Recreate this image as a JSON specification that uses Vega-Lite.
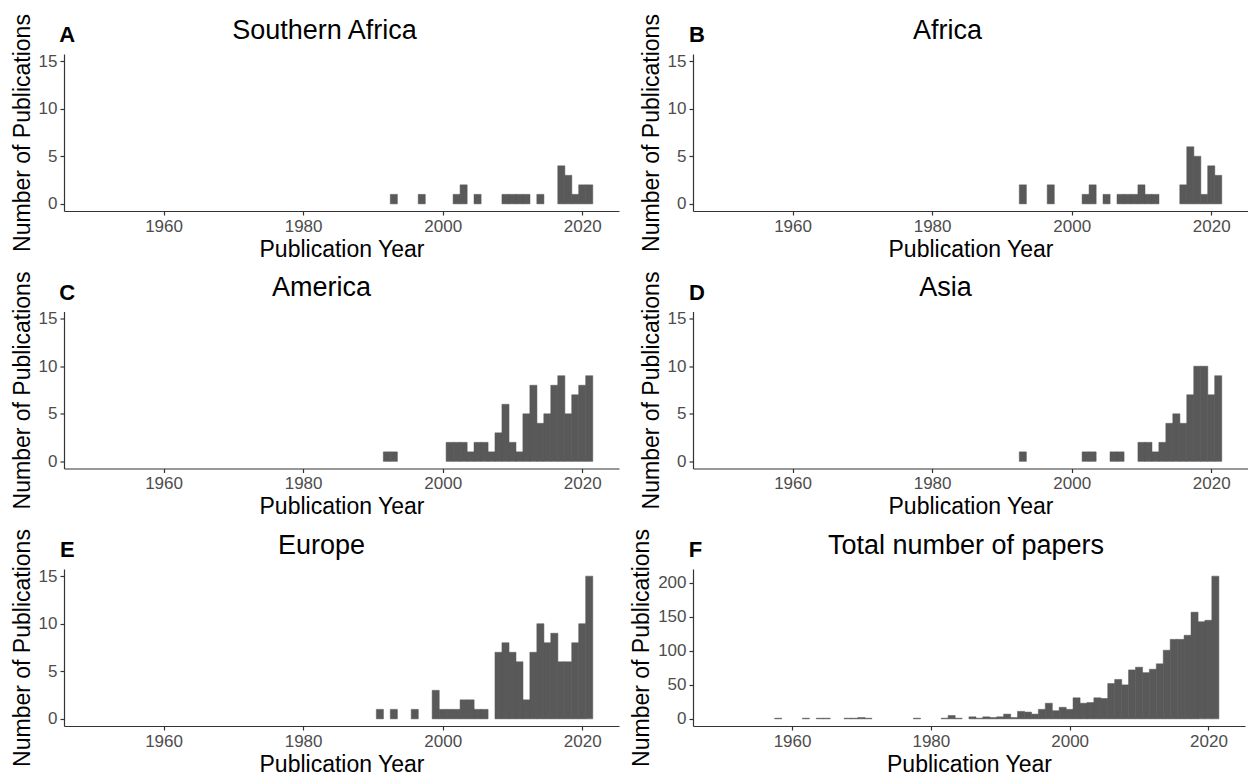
{
  "$schema": "https://vega.github.io/schema/vega-lite/v6.json",
  "background": "white",
  "padding": {"left": 11, "top": 13, "right": 0, "bottom": 0},
  "bounds": "flush",
  "datasets": {
    "pubs": [
      {"region": "Southern Africa", "year": 1993, "n": 1},
      {"region": "Southern Africa", "year": 1997, "n": 1},
      {"region": "Southern Africa", "year": 2002, "n": 1},
      {"region": "Southern Africa", "year": 2003, "n": 2},
      {"region": "Southern Africa", "year": 2005, "n": 1},
      {"region": "Southern Africa", "year": 2009, "n": 1},
      {"region": "Southern Africa", "year": 2010, "n": 1},
      {"region": "Southern Africa", "year": 2011, "n": 1},
      {"region": "Southern Africa", "year": 2012, "n": 1},
      {"region": "Southern Africa", "year": 2014, "n": 1},
      {"region": "Southern Africa", "year": 2017, "n": 4},
      {"region": "Southern Africa", "year": 2018, "n": 3},
      {"region": "Southern Africa", "year": 2019, "n": 1},
      {"region": "Southern Africa", "year": 2020, "n": 2},
      {"region": "Southern Africa", "year": 2021, "n": 2},
      {"region": "Africa", "year": 1993, "n": 2},
      {"region": "Africa", "year": 1997, "n": 2},
      {"region": "Africa", "year": 2002, "n": 1},
      {"region": "Africa", "year": 2003, "n": 2},
      {"region": "Africa", "year": 2005, "n": 1},
      {"region": "Africa", "year": 2007, "n": 1},
      {"region": "Africa", "year": 2008, "n": 1},
      {"region": "Africa", "year": 2009, "n": 1},
      {"region": "Africa", "year": 2010, "n": 2},
      {"region": "Africa", "year": 2011, "n": 1},
      {"region": "Africa", "year": 2012, "n": 1},
      {"region": "Africa", "year": 2016, "n": 2},
      {"region": "Africa", "year": 2017, "n": 6},
      {"region": "Africa", "year": 2018, "n": 5},
      {"region": "Africa", "year": 2019, "n": 1},
      {"region": "Africa", "year": 2020, "n": 4},
      {"region": "Africa", "year": 2021, "n": 3},
      {"region": "America", "year": 1992, "n": 1},
      {"region": "America", "year": 1993, "n": 1},
      {"region": "America", "year": 2001, "n": 2},
      {"region": "America", "year": 2002, "n": 2},
      {"region": "America", "year": 2003, "n": 2},
      {"region": "America", "year": 2004, "n": 1},
      {"region": "America", "year": 2005, "n": 2},
      {"region": "America", "year": 2006, "n": 2},
      {"region": "America", "year": 2007, "n": 1},
      {"region": "America", "year": 2008, "n": 3},
      {"region": "America", "year": 2009, "n": 6},
      {"region": "America", "year": 2010, "n": 2},
      {"region": "America", "year": 2011, "n": 1},
      {"region": "America", "year": 2012, "n": 5},
      {"region": "America", "year": 2013, "n": 8},
      {"region": "America", "year": 2014, "n": 4},
      {"region": "America", "year": 2015, "n": 5},
      {"region": "America", "year": 2016, "n": 8},
      {"region": "America", "year": 2017, "n": 9},
      {"region": "America", "year": 2018, "n": 5},
      {"region": "America", "year": 2019, "n": 7},
      {"region": "America", "year": 2020, "n": 8},
      {"region": "America", "year": 2021, "n": 9},
      {"region": "Asia", "year": 1993, "n": 1},
      {"region": "Asia", "year": 2002, "n": 1},
      {"region": "Asia", "year": 2003, "n": 1},
      {"region": "Asia", "year": 2006, "n": 1},
      {"region": "Asia", "year": 2007, "n": 1},
      {"region": "Asia", "year": 2010, "n": 2},
      {"region": "Asia", "year": 2011, "n": 2},
      {"region": "Asia", "year": 2012, "n": 1},
      {"region": "Asia", "year": 2013, "n": 2},
      {"region": "Asia", "year": 2014, "n": 4},
      {"region": "Asia", "year": 2015, "n": 5},
      {"region": "Asia", "year": 2016, "n": 4},
      {"region": "Asia", "year": 2017, "n": 7},
      {"region": "Asia", "year": 2018, "n": 10},
      {"region": "Asia", "year": 2019, "n": 10},
      {"region": "Asia", "year": 2020, "n": 7},
      {"region": "Asia", "year": 2021, "n": 9},
      {"region": "Europe", "year": 1991, "n": 1},
      {"region": "Europe", "year": 1993, "n": 1},
      {"region": "Europe", "year": 1996, "n": 1},
      {"region": "Europe", "year": 1999, "n": 3},
      {"region": "Europe", "year": 2000, "n": 1},
      {"region": "Europe", "year": 2001, "n": 1},
      {"region": "Europe", "year": 2002, "n": 1},
      {"region": "Europe", "year": 2003, "n": 2},
      {"region": "Europe", "year": 2004, "n": 2},
      {"region": "Europe", "year": 2005, "n": 1},
      {"region": "Europe", "year": 2006, "n": 1},
      {"region": "Europe", "year": 2008, "n": 7},
      {"region": "Europe", "year": 2009, "n": 8},
      {"region": "Europe", "year": 2010, "n": 7},
      {"region": "Europe", "year": 2011, "n": 6},
      {"region": "Europe", "year": 2012, "n": 2},
      {"region": "Europe", "year": 2013, "n": 7},
      {"region": "Europe", "year": 2014, "n": 10},
      {"region": "Europe", "year": 2015, "n": 8},
      {"region": "Europe", "year": 2016, "n": 9},
      {"region": "Europe", "year": 2017, "n": 6},
      {"region": "Europe", "year": 2018, "n": 6},
      {"region": "Europe", "year": 2019, "n": 8},
      {"region": "Europe", "year": 2020, "n": 10},
      {"region": "Europe", "year": 2021, "n": 15},
      {"region": "Total", "year": 1958, "n": 1},
      {"region": "Total", "year": 1962, "n": 1},
      {"region": "Total", "year": 1964, "n": 1},
      {"region": "Total", "year": 1965, "n": 1},
      {"region": "Total", "year": 1968, "n": 1},
      {"region": "Total", "year": 1969, "n": 1},
      {"region": "Total", "year": 1970, "n": 2},
      {"region": "Total", "year": 1971, "n": 1},
      {"region": "Total", "year": 1978, "n": 1},
      {"region": "Total", "year": 1982, "n": 1},
      {"region": "Total", "year": 1983, "n": 5},
      {"region": "Total", "year": 1984, "n": 1},
      {"region": "Total", "year": 1986, "n": 3},
      {"region": "Total", "year": 1987, "n": 1},
      {"region": "Total", "year": 1988, "n": 3},
      {"region": "Total", "year": 1989, "n": 2},
      {"region": "Total", "year": 1990, "n": 3},
      {"region": "Total", "year": 1991, "n": 7},
      {"region": "Total", "year": 1992, "n": 2},
      {"region": "Total", "year": 1993, "n": 11},
      {"region": "Total", "year": 1994, "n": 10},
      {"region": "Total", "year": 1995, "n": 7},
      {"region": "Total", "year": 1996, "n": 14},
      {"region": "Total", "year": 1997, "n": 23},
      {"region": "Total", "year": 1998, "n": 12},
      {"region": "Total", "year": 1999, "n": 17},
      {"region": "Total", "year": 2000, "n": 14},
      {"region": "Total", "year": 2001, "n": 31},
      {"region": "Total", "year": 2002, "n": 23},
      {"region": "Total", "year": 2003, "n": 24},
      {"region": "Total", "year": 2004, "n": 31},
      {"region": "Total", "year": 2005, "n": 30},
      {"region": "Total", "year": 2006, "n": 52},
      {"region": "Total", "year": 2007, "n": 58},
      {"region": "Total", "year": 2008, "n": 50},
      {"region": "Total", "year": 2009, "n": 72},
      {"region": "Total", "year": 2010, "n": 76},
      {"region": "Total", "year": 2011, "n": 68},
      {"region": "Total", "year": 2012, "n": 73},
      {"region": "Total", "year": 2013, "n": 81},
      {"region": "Total", "year": 2014, "n": 101},
      {"region": "Total", "year": 2015, "n": 117},
      {"region": "Total", "year": 2016, "n": 117},
      {"region": "Total", "year": 2017, "n": 123},
      {"region": "Total", "year": 2018, "n": 157},
      {"region": "Total", "year": 2019, "n": 143},
      {"region": "Total", "year": 2020, "n": 145},
      {"region": "Total", "year": 2021, "n": 210}
    ]
  },
  "columns": 2,
  "spacing": {"row": 100.5, "column": 74},
  "concat": [
    {
      "width": 555, "height": 157,
      "title": {"text": "Southern Africa", "dx": -17, "dy": 39},
      "layer": [
        {
          "data": {"name": "pubs"},
          "transform": [{"filter": "datum.region === 'Southern Africa'"}],
          "mark": {"type": "bar", "color": "#595959", "stroke": "#595959", "strokeWidth": 0.5, "width": 7.11},
          "encoding": {
            "x": {"field": "year", "type": "quantitative", "scale": {"domain": [1946.45, 2024.55]}, "axis": {"title": "Publication Year", "values": [1960, 1980, 2000, 2020], "format": "d"}},
            "y": {"field": "n", "type": "quantitative", "scale": {"domain": [-0.75, 15.75]}, "axis": {"title": "Number of Publications", "values": [0, 5, 10, 15], "tickCount": 10}},
            "y2": {"datum": 0}
          }
        },
        {
          "data": {"values": [{"label": "A"}]},
          "mark": {"type": "text", "fontSize": 22, "fontWeight": "bold", "align": "center", "baseline": "middle", "color": "#000000"},
          "encoding": {"x": {"datum": 1946.2, "scale": {"domain": [1946.45, 2024.55]}}, "y": {"datum": 17.7, "scale": {"domain": [-0.75, 15.75]}}, "text": {"field": "label"}}
        }
      ]
    },
    {
      "width": 555, "height": 157,
      "title": {"text": "Africa", "dx": -23, "dy": 39},
      "layer": [
        {
          "data": {"name": "pubs"},
          "transform": [{"filter": "datum.region === 'Africa'"}],
          "mark": {"type": "bar", "color": "#595959", "stroke": "#595959", "strokeWidth": 0.5, "width": 7.11},
          "encoding": {
            "x": {"field": "year", "type": "quantitative", "scale": {"domain": [1946.45, 2024.55]}, "axis": {"title": "Publication Year", "values": [1960, 1980, 2000, 2020], "format": "d"}},
            "y": {"field": "n", "type": "quantitative", "scale": {"domain": [-0.75, 15.75]}, "axis": {"title": "Number of Publications", "values": [0, 5, 10, 15], "tickCount": 10}},
            "y2": {"datum": 0}
          }
        },
        {
          "data": {"values": [{"label": "B"}]},
          "mark": {"type": "text", "fontSize": 22, "fontWeight": "bold", "align": "center", "baseline": "middle", "color": "#000000"},
          "encoding": {"x": {"datum": 1946.3, "scale": {"domain": [1946.45, 2024.55]}}, "y": {"datum": 17.7, "scale": {"domain": [-0.75, 15.75]}}, "text": {"field": "label"}}
        }
      ]
    },
    {
      "width": 555, "height": 157,
      "title": {"text": "America", "dx": -20, "dy": 39},
      "layer": [
        {
          "data": {"name": "pubs"},
          "transform": [{"filter": "datum.region === 'America'"}],
          "mark": {"type": "bar", "color": "#595959", "stroke": "#595959", "strokeWidth": 0.5, "width": 7.11},
          "encoding": {
            "x": {"field": "year", "type": "quantitative", "scale": {"domain": [1946.45, 2024.55]}, "axis": {"title": "Publication Year", "values": [1960, 1980, 2000, 2020], "format": "d"}},
            "y": {"field": "n", "type": "quantitative", "scale": {"domain": [-0.75, 15.75]}, "axis": {"title": "Number of Publications", "values": [0, 5, 10, 15], "tickCount": 10}},
            "y2": {"datum": 0}
          }
        },
        {
          "data": {"values": [{"label": "C"}]},
          "mark": {"type": "text", "fontSize": 22, "fontWeight": "bold", "align": "center", "baseline": "middle", "color": "#000000"},
          "encoding": {"x": {"datum": 1946.2, "scale": {"domain": [1946.45, 2024.55]}}, "y": {"datum": 17.7, "scale": {"domain": [-0.75, 15.75]}}, "text": {"field": "label"}}
        }
      ]
    },
    {
      "width": 555, "height": 157,
      "title": {"text": "Asia", "dx": -25, "dy": 39},
      "layer": [
        {
          "data": {"name": "pubs"},
          "transform": [{"filter": "datum.region === 'Asia'"}],
          "mark": {"type": "bar", "color": "#595959", "stroke": "#595959", "strokeWidth": 0.5, "width": 7.11},
          "encoding": {
            "x": {"field": "year", "type": "quantitative", "scale": {"domain": [1946.45, 2024.55]}, "axis": {"title": "Publication Year", "values": [1960, 1980, 2000, 2020], "format": "d"}},
            "y": {"field": "n", "type": "quantitative", "scale": {"domain": [-0.75, 15.75]}, "axis": {"title": "Number of Publications", "values": [0, 5, 10, 15], "tickCount": 10}},
            "y2": {"datum": 0}
          }
        },
        {
          "data": {"values": [{"label": "D"}]},
          "mark": {"type": "text", "fontSize": 22, "fontWeight": "bold", "align": "center", "baseline": "middle", "color": "#000000"},
          "encoding": {"x": {"datum": 1946.3, "scale": {"domain": [1946.45, 2024.55]}}, "y": {"datum": 17.7, "scale": {"domain": [-0.75, 15.75]}}, "text": {"field": "label"}}
        }
      ]
    },
    {
      "width": 555, "height": 157,
      "title": {"text": "Europe", "dx": -20, "dy": 39},
      "layer": [
        {
          "data": {"name": "pubs"},
          "transform": [{"filter": "datum.region === 'Europe'"}],
          "mark": {"type": "bar", "color": "#595959", "stroke": "#595959", "strokeWidth": 0.5, "width": 7.11},
          "encoding": {
            "x": {"field": "year", "type": "quantitative", "scale": {"domain": [1946.45, 2024.55]}, "axis": {"title": "Publication Year", "values": [1960, 1980, 2000, 2020], "format": "d"}},
            "y": {"field": "n", "type": "quantitative", "scale": {"domain": [-0.75, 15.75]}, "axis": {"title": "Number of Publications", "values": [0, 5, 10, 15], "tickCount": 10}},
            "y2": {"datum": 0}
          }
        },
        {
          "data": {"values": [{"label": "E"}]},
          "mark": {"type": "text", "fontSize": 22, "fontWeight": "bold", "align": "center", "baseline": "middle", "color": "#000000"},
          "encoding": {"x": {"datum": 1946.2, "scale": {"domain": [1946.45, 2024.55]}}, "y": {"datum": 17.7, "scale": {"domain": [-0.75, 15.75]}}, "text": {"field": "label"}}
        }
      ]
    },
    {
      "width": 552, "height": 157,
      "title": {"text": "Total number of papers", "dx": -3, "dy": 39},
      "layer": [
        {
          "data": {"name": "pubs"},
          "transform": [{"filter": "datum.region === 'Total'"}],
          "mark": {"type": "bar", "color": "#595959", "stroke": "#595959", "strokeWidth": 0.5, "width": 7.07},
          "encoding": {
            "x": {"field": "year", "type": "quantitative", "scale": {"domain": [1946.45, 2024.55]}, "axis": {"title": "Publication Year", "values": [1960, 1980, 2000, 2020], "format": "d"}},
            "y": {"field": "n", "type": "quantitative", "scale": {"domain": [-10.5, 220.5]}, "axis": {"title": "Number of Publications", "values": [0, 50, 100, 150, 200], "tickCount": 10}},
            "y2": {"datum": 0}
          }
        },
        {
          "data": {"values": [{"label": "F"}]},
          "mark": {"type": "text", "fontSize": 22, "fontWeight": "bold", "align": "center", "baseline": "middle", "color": "#000000"},
          "encoding": {"x": {"datum": 1946.1, "scale": {"domain": [1946.45, 2024.55]}}, "y": {"datum": 248, "scale": {"domain": [-10.5, 220.5]}}, "text": {"field": "label"}}
        }
      ]
    }
  ],
  "config": {
    "font": "Liberation Sans",
    "view": {"stroke": null},
    "axis": {
      "grid": false,
      "domainColor": "#333333",
      "domainWidth": 1.2,
      "tickColor": "#333333",
      "tickWidth": 1.2,
      "tickSize": 4,
      "labelColor": "#4d4d4d",
      "labelFontSize": 17,
      "labelPadding": 3,
      "labelFlush": false,
      "labelOverlap": false,
      "titleFontSize": 23,
      "titleFontWeight": "normal",
      "titleColor": "#000000"
    },
    "axisX": {"titlePadding": 4},
    "axisY": {"titlePadding": 4},
    "title": {"fontSize": 27, "fontWeight": "normal", "color": "#000000", "anchor": "middle", "offset": 8}
  }
}
